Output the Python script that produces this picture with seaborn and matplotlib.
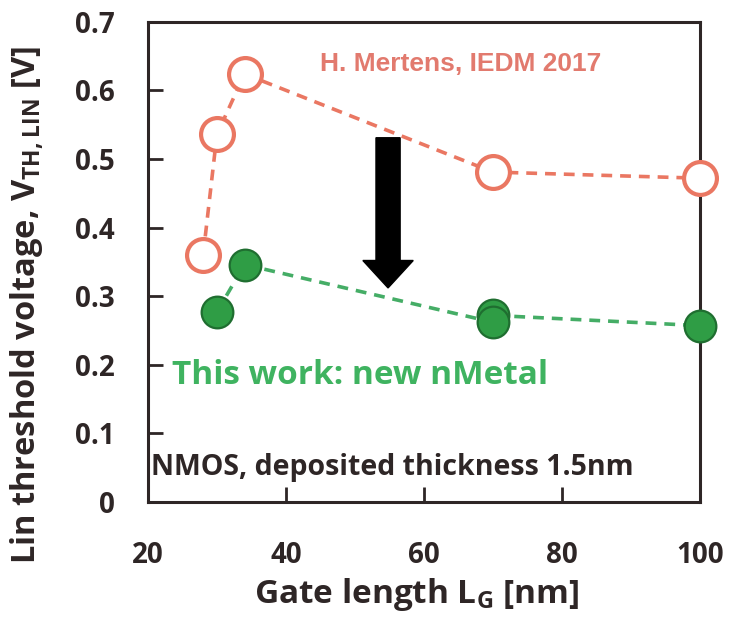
import matplotlib

matplotlib.use("Agg")

import matplotlib.pyplot as plt  # noqa: E402
import pandas as pd  # noqa: E402
import seaborn as sns  # noqa: E402
from matplotlib.patches import Rectangle  # noqa: E402

# ------------------------------------------------------------------
#  Data
# ------------------------------------------------------------------
ref_lg = [28, 30, 34, 70, 100]
ref_vth = [0.36, 0.536, 0.624, 0.481, 0.472]

new_lg = [30, 34, 70, 70, 100]
new_vth = [0.277, 0.346, 0.272, 0.262, 0.257]

x_ticks = [20, 40, 60, 80, 100]
y_ticks = [0, 0.1, 0.2, 0.3, 0.4, 0.5, 0.6, 0.7]
y_labels = ["0", "0.1", "0.2", "0.3", "0.4", "0.5", "0.6", "0.7"]

ref_df = pd.DataFrame({"lg": ref_lg, "vth": ref_vth})
new_df = pd.DataFrame({"lg": new_lg, "vth": new_vth})

RED = "#ea7762"
GREEN = "#2f9d45"
GREEN_LINE = "#45ad66"
GREEN_TEXT = "#3fb360"
DARK = "#2e2626"
FONT = ["Open Sans", "DejaVu Sans"]

sns.set_style("white")
plt.rcParams["font.family"] = FONT
plt.rcParams["font.weight"] = "bold"
plt.rcParams["mathtext.fontset"] = "custom"
plt.rcParams["mathtext.rm"] = "Open Sans:bold"
plt.rcParams["mathtext.bf"] = "Open Sans:bold"

fig = plt.figure(figsize=(7.36, 6.25), dpi=100)
ax = fig.add_axes([0.201, 0.197, 0.750, 0.768])

# dashed guide lines
sns.lineplot(data=ref_df, x="lg", y="vth", ax=ax, estimator=None, sort=True,
             color=RED, linestyle=(0, (3, 2.2)), linewidth=2.6, zorder=2)
sns.lineplot(data=new_df, x="lg", y="vth", ax=ax, estimator=None, sort=True,
             color=GREEN_LINE, linestyle=(0, (3, 2.2)), linewidth=2.6, zorder=2)

# markers
sns.scatterplot(data=ref_df, x="lg", y="vth", ax=ax, s=560, marker="o",
                facecolor="white", edgecolor=RED, linewidth=3,
                zorder=4, clip_on=False)
sns.scatterplot(data=new_df, x="lg", y="vth", ax=ax, s=520, marker="o",
                color=GREEN, edgecolor="#1f6e30", linewidth=1.6,
                zorder=4, clip_on=False)

# big black arrow
ax.arrow(54.8, 0.531, 0, -0.219, width=3.5, head_width=7.3,
         head_length=0.04, length_includes_head=True,
         color="black", zorder=3)

# white box with citation
ax.add_patch(Rectangle((0.275, 0.854), 0.658, 0.108, transform=ax.transAxes,
                       facecolor="white", edgecolor="none", zorder=5))
ax.text(0.312, 0.912, "H. Mertens, IEDM 2017", transform=ax.transAxes,
        ha="left", va="center", fontsize=19, fontweight="bold",
        family="Liberation Sans", color="#e27a6e", zorder=6)

ax.text(23.5, 0.185, "This work: new nMetal", ha="left", va="center",
        fontsize=24, fontweight="bold", color=GREEN_TEXT, zorder=6)
ax.text(20.5, 0.05, "NMOS, deposited thickness 1.5nm", ha="left",
        va="center", fontsize=20.5, fontweight="bold", color=DARK, zorder=6)

ax.set_xlim(20, 100)
ax.set_ylim(0, 0.7)
ax.set_xticks(x_ticks)
ax.set_yticks(y_ticks)
ax.set_yticklabels(y_labels)
ax.tick_params(direction="in", length=11, width=2, colors=DARK,
               labelsize=20, bottom=True, left=True)
ax.tick_params(axis="x", pad=28)
ax.tick_params(axis="y", pad=24)
for lbl in ax.get_xticklabels() + ax.get_yticklabels():
    lbl.set_fontweight("bold")

for side in ["left", "right", "top", "bottom"]:
    ax.spines[side].set_visible(True)
    ax.spines[side].set_linewidth(2.2)
    ax.spines[side].set_color(DARK)

ax.set_xlabel("Gate length L$_\\mathregular{G}$ [nm]", fontsize=24,
              fontweight="bold", color=DARK)
ax.set_ylabel("Lin threshold voltage, V$_\\mathregular{TH,LIN}$ [V]",
              fontsize=23.5, fontweight="bold", color=DARK)
ax.xaxis.set_label_coords(0.487, -0.155)
ax.yaxis.set_label_coords(-0.185, 0.41)

fig.savefig("out.png", dpi=100, facecolor="white")
